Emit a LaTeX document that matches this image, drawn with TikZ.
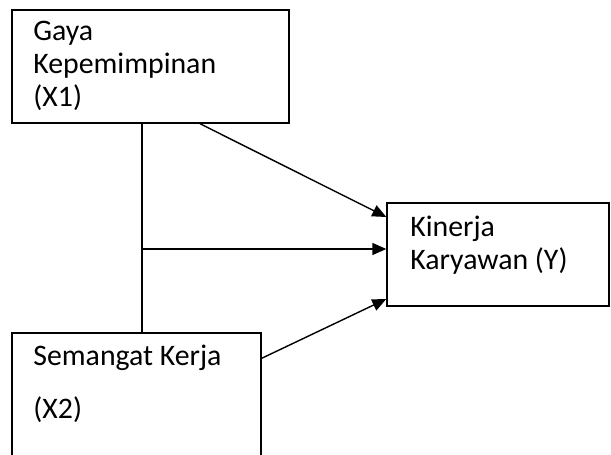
\documentclass[tikz,border=0pt]{standalone}
\usepackage{fontspec}
\setmainfont{Carlito}
\usetikzlibrary{arrows.meta}
\begin{document}
\begin{tikzpicture}[x=0.5pt,y=-0.5pt,
    box/.style={draw,line width=0.7pt,inner sep=0pt},
    txt/.style={anchor=north west,inner sep=0pt,align=left,font=\fontsize{14.9}{16.5}\selectfont},
    link/.style={line width=0.7pt,-{Triangle[length=7pt,width=6pt]}}]
    \path[use as bounding box,clip] (0,0) rectangle (611,455);

    % Boxes
    \node[box,minimum width=138.5pt,minimum height=56.5pt] (gaya) at (150.5,66.5) {};
    \node[box,minimum width=111pt,minimum height=51.5pt] (kinerja) at (498,254.5) {};
    \node[box,minimum width=124.5pt,minimum height=70pt] (semangat) at (136.5,403) {};

    % Labels inside the boxes
    \node[txt] (gayatxt) at (33,21) {Gaya\\Kepemimpinan\\(X1)};
    \node[txt] (kinerjatxt) at (410,216) {Kinerja\\Karyawan (Y)};
    \node[txt] (semangattxt) at (33,345) {Semangat Kerja\\[10pt](X2)};

    % Connectors
    \coordinate (junction) at (142,249);
    \draw[line width=0.7pt] ([xshift=-4.25pt]gaya.south) -- ([xshift=2.75pt]semangat.north);
    \draw[link] ([xshift=24.75pt]gaya.south) -- ([yshift=18.75pt]kinerja.west);
    \draw[link] (junction) -- (junction -| kinerja.west);
    \draw[link] ([yshift=-13pt]semangat.north east) -- ([yshift=-22.25pt]kinerja.west);
\end{tikzpicture}
\end{document}
